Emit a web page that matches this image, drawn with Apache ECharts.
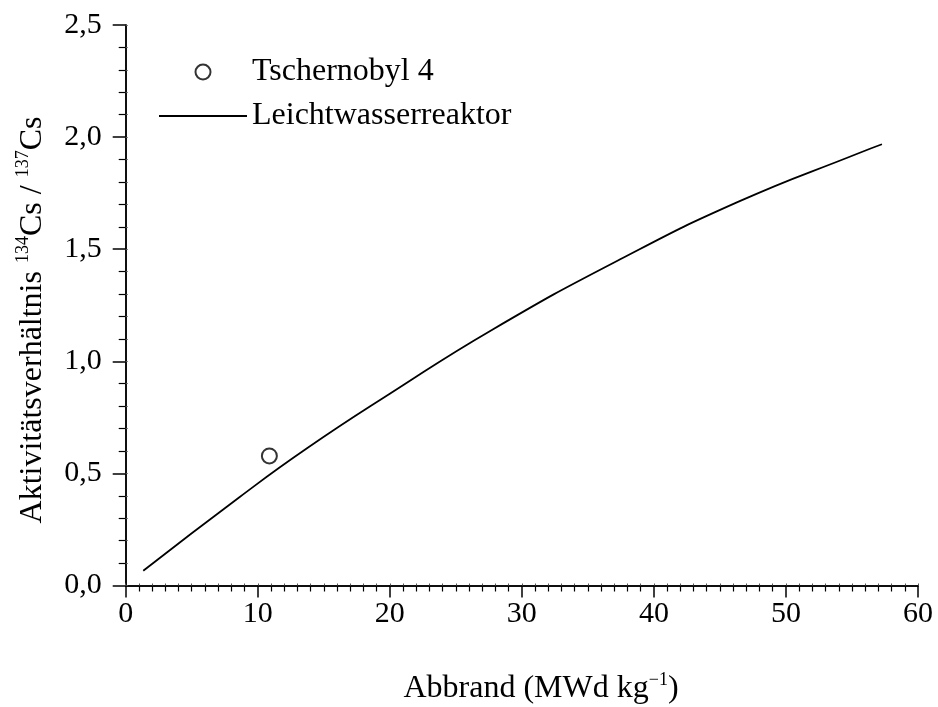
<!DOCTYPE html>
<html>
<head>
<meta charset="utf-8">
<script src="https://cdn.jsdelivr.net/npm/echarts@6/dist/echarts.min.js"></script>
<style>html,body{margin:0;padding:0;background:#fff}#c{width:938px;height:707px}</style>
</head>
<body>
<div id="c"></div>
<script>
// Data
var lwrBurnup = [1.33, 8.66, 13.73, 20.0, 27.73, 37.45, 46.41, 55.50, 57.27];
var lwrRatio  = [0.066, 0.396, 0.612, 0.855, 1.140, 1.455, 1.712, 1.928, 1.968];
var chernobylBurnup = [10.88];
var chernobylRatio  = [0.578];
var xTicks = [0, 10, 20, 30, 40, 50, 60];
var yTicks = [0, 0.5, 1.0, 1.5, 2.0, 2.5];
var seriesNames = ['Tschernobyl 4', 'Leichtwasserreaktor'];

var FONT = 'Liberation Serif';
var chart = echarts.init(document.getElementById('c'), null, {renderer: 'canvas'});

function pairs(xs, ys) { return xs.map(function (x, i) { return [x, ys[i]]; }); }

var axisLine = {show: true, lineStyle: {color: '#000', width: 1.5}};
chart.setOption({
  animation: false,
  backgroundColor: '#fff',
  grid: {left: 125.7, right: 20, top: 25, bottom: 121.5, containLabel: false},
  legend: {
    orient: 'vertical', left: 158, top: 53, padding: 0,
    itemWidth: 88, itemHeight: 15, itemGap: 6,
    textStyle: {fontFamily: FONT, fontSize: 32, color: '#000', lineHeight: 38},
    data: [
      {name: seriesNames[0], icon: 'emptyCircle'},
      {name: seriesNames[1], itemStyle: {opacity: 0}}
    ]
  },
  xAxis: [{
    type: 'value', position: 'bottom', min: xTicks[0], max: xTicks[xTicks.length - 1], interval: 10,
    axisLine: axisLine,
    axisTick: {show: true, inside: false, length: 12, lineStyle: {color: '#000', width: 1.5}},
    minorTick: {show: true, splitNumber: 10, length: 6, lineStyle: {color: '#000', width: 1.2}},
    splitLine: {show: false},
    axisLabel: {fontFamily: FONT, fontSize: 30, color: '#000', margin: 14}
  }, {
    type: 'value', position: 'top', min: xTicks[0], max: xTicks[xTicks.length - 1], interval: 10,
    axisLine: axisLine,
    axisTick: {show: true, inside: false, length: 2, lineStyle: {color: '#555', width: 1}},
    minorTick: {show: true, splitNumber: 10, length: 2, lineStyle: {color: '#555', width: 1}},
    splitLine: {show: false}, axisLabel: {show: false}
  }],
  yAxis: [{
    type: 'value', position: 'left', min: yTicks[0], max: yTicks[yTicks.length - 1], interval: 0.5,
    axisLine: axisLine,
    axisTick: {show: true, inside: false, length: 13, lineStyle: {color: '#000', width: 1.5}},
    minorTick: {show: true, splitNumber: 5, length: 7, lineStyle: {color: '#000', width: 1.2}},
    splitLine: {show: false},
    axisLabel: {fontFamily: FONT, fontSize: 30, color: '#000', margin: 24,
      formatter: function (v) { return v.toFixed(1).replace('.', ','); }}
  }, {
    type: 'value', position: 'right', min: yTicks[0], max: yTicks[yTicks.length - 1], interval: 0.5,
    axisLine: axisLine,
    axisTick: {show: true, inside: false, length: 2, lineStyle: {color: '#555', width: 1}},
    minorTick: {show: true, splitNumber: 5, length: 2, lineStyle: {color: '#555', width: 1}},
    splitLine: {show: false}, axisLabel: {show: false}
  }],
  series: [{
    name: seriesNames[0], type: 'scatter', xAxisIndex: 0, yAxisIndex: 0,
    symbol: 'emptyCircle', symbolSize: 15,
    itemStyle: {color: '#000', borderColor: '#000', borderWidth: 1.3},
    data: pairs(chernobylBurnup, chernobylRatio), z: 3
  }, {
    name: seriesNames[1], type: 'line', xAxisIndex: 0, yAxisIndex: 0,
    smooth: 0.5, showSymbol: false, symbol: 'none',
    lineStyle: {color: '#000', width: 1.8},
    itemStyle: {color: '#000'},
    data: pairs(lwrBurnup, lwrRatio)
  }],
  graphic: [{
    type: 'text', x: 541, y: 667,
    style: {
      text: '{m|Abbrand (MWd kg}{s|−1}{m|)}',
      align: 'center', verticalAlign: 'top',
      rich: {
        m: {fontFamily: FONT, fontSize: 32, fill: '#000', lineHeight: 38, verticalAlign: 'bottom'},
        s: {fontFamily: FONT, fontSize: 18, fill: '#000', lineHeight: 38, verticalAlign: 'top', padding: [4, 0, 0, 0]}
      }
    }
  }, {
    type: 'text', x: 10.5, y: 320, rotation: Math.PI / 2,
    style: {
      text: '{m|Aktivitätsverhältnis }{s|134}{m|Cs / }{s|137}{m|Cs}',
      align: 'center', verticalAlign: 'top',
      rich: {
        m: {fontFamily: FONT, fontSize: 32, fill: '#000', lineHeight: 38, verticalAlign: 'bottom'},
        s: {fontFamily: FONT, fontSize: 18, fill: '#000', lineHeight: 38, verticalAlign: 'top', padding: [4, 0, 0, 0]}
      }
    }
  }]
});
</script>
</body>
</html>
